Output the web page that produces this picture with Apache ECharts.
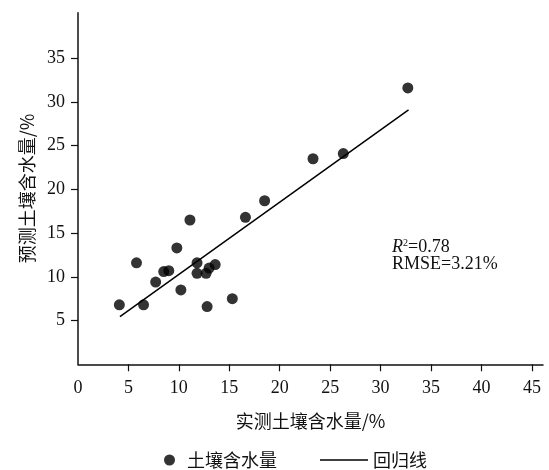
<!DOCTYPE html>
<html>
<head>
<meta charset="utf-8">
<script src="https://cdn.jsdelivr.net/npm/echarts@6/dist/echarts.min.js"></script>
<style>
html,body{margin:0;padding:0;background:#fff;}
#main{width:549px;height:470px;}
</style>
</head>
<body>
<div id="main"></div>
<script>
// Measured vs predicted soil moisture (%)
const measured  = [4.1, 6.5, 5.8, 7.7, 8.5, 9.0, 10.2, 9.8, 11.1, 11.8, 11.8, 12.7, 13.0, 13.6, 12.8, 15.3, 16.6, 18.5, 23.3, 26.3, 32.7];
const predicted = [6.8, 6.8, 11.6, 9.4, 10.6, 10.7, 8.5, 13.3, 16.5, 11.6, 10.4, 10.4, 11.0, 11.4, 6.6, 7.5, 16.8, 18.7, 23.5, 24.1, 31.6];
// Regression line end points
const lineX = [4.16, 32.77];
const lineY = [5.45, 29.09];
const xTickLabels = [0, 5, 10, 15, 20, 25, 30, 35, 40, 45];
const yTickLabels = [5, 10, 15, 20, 25, 30, 35];

const scatterData = measured.map((x, i) => [x, predicted[i]]);
const lineData = lineX.map((x, i) => [x, lineY[i]]);

const serif = 'Liberation Serif';
const cjk = 'Noto Sans CJK SC';
const ink = '#111';

const chart = echarts.init(document.getElementById('main'));
chart.setOption({
  backgroundColor: '#fff',
  animation: false,
  grid: { left: 78, right: 6, top: 12.7, bottom: 105.7 },
  xAxis: {
    type: 'value', min: 0, max: 46.1, interval: 5,
    name: '实测土壤含水量/%', nameLocation: 'middle', nameGap: 48,
    nameTextStyle: { fontFamily: cjk, fontSize: 18, color: ink },
    axisLine: { show: true, lineStyle: { color: ink, width: 1.5 } },
    axisTick: { show: true, customValues: xTickLabels.slice(1), length: 7, lineStyle: { color: ink, width: 1.2 } },
    axisLabel: { customValues: xTickLabels, margin: 15, fontFamily: serif, fontSize: 18, color: ink },
    splitLine: { show: false }
  },
  yAxis: {
    type: 'value', min: 0, max: 40.2, interval: 5,
    name: '预测土壤含水量/%', nameLocation: 'middle', nameGap: 42, nameRotate: 90,
    nameTextStyle: { fontFamily: cjk, fontSize: 18, color: ink },
    axisLine: { show: true, lineStyle: { color: ink, width: 1.5 } },
    axisTick: { show: true, customValues: yTickLabels, length: 7, lineStyle: { color: ink, width: 1.2 } },
    axisLabel: { customValues: yTickLabels, margin: 13, fontFamily: serif, fontSize: 18, color: ink },
    splitLine: { show: false }
  },
  legend: [
    {
      data: [{ name: '土壤含水量', icon: 'circle' }],
      left: 159, top: 446, itemWidth: 25, itemHeight: 11,
      textStyle: { fontFamily: cjk, fontSize: 18, color: ink }
    },
    {
      data: [{ name: '回归线', icon: 'rect' }],
      left: 315, top: 446, itemWidth: 48, itemHeight: 1.5,
      textStyle: { fontFamily: cjk, fontSize: 18, color: ink }
    }
  ],
  graphic: [
    {
      type: 'text', left: 392, top: 238,
      style: {
        text: '{i|R}{s|2}{n|=0.78}\nRMSE=3.21%',
        font: '18px "Liberation Serif"', fill: ink, lineHeight: 17,
        rich: {
          i: { fontFamily: serif, fontSize: 18, fontStyle: 'italic', fill: ink },
          s: { fontFamily: serif, fontSize: 10, fill: ink, verticalAlign: 'top', padding: [0, 0, 6, 0] },
          n: { fontFamily: serif, fontSize: 18, fill: ink }
        }
      }
    }
  ],
  series: [
    {
      name: '土壤含水量', type: 'scatter', data: scatterData,
      symbol: 'circle', symbolSize: 11,
      itemStyle: { color: '#000' }
    },
    {
      name: '回归线', type: 'line', data: lineData,
      showSymbol: false, symbol: 'none',
      lineStyle: { color: '#000', width: 1.5 },
      itemStyle: { color: '#000' }
    }
  ]
});
</script>
</body>
</html>
